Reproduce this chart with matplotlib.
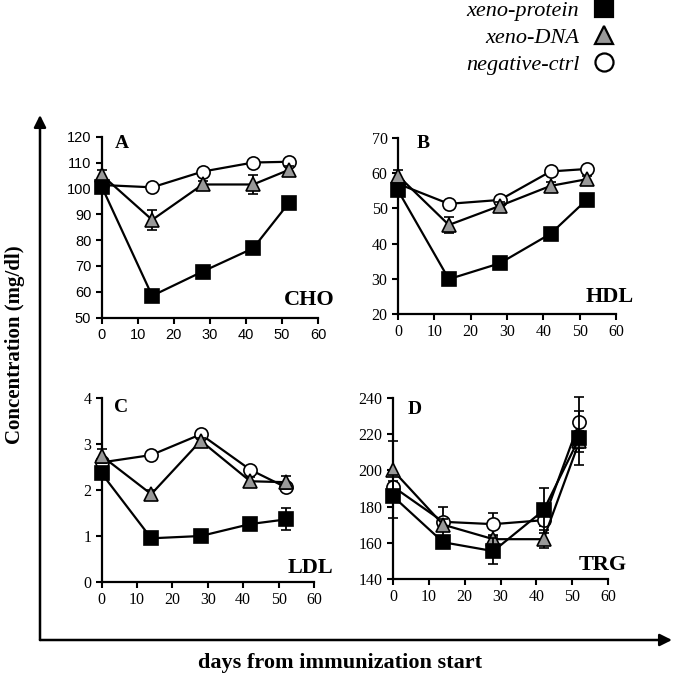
import matplotlib.pyplot as plt
from matplotlib.lines import Line2D
from matplotlib.patches import FancyArrowPatch

plt.rcParams['font.family'] = ['Liberation Serif', 'DejaVu Serif']

days = [0, 14, 28, 42, 52]
series_names = ['xeno-protein', 'xeno-DNA', 'negative-ctrl']

# CHO (panel A)
cho_protein = [100.7, 58.4, 67.8, 76.8, 94.5]
cho_protein_err = [1.5, 1.5, 1.5, 1.5, 1.5]
cho_dna = [105.2, 87.8, 101.5, 101.5, 107.2]
cho_dna_err = [2.0, 4.0, 1.5, 3.5, 1.5]
cho_neg = [101.3, 100.4, 106.5, 110.0, 110.3]
cho_neg_err = [0, 0, 0, 0, 0]

# HDL (panel B)
hdl_protein = [55.1, 29.9, 34.4, 42.8, 52.5]
hdl_protein_err = [1.0, 1.0, 1.0, 1.0, 1.0]
hdl_dna = [59.3, 45.3, 50.7, 56.4, 58.3]
hdl_dna_err = [1.5, 2.2, 1.0, 1.0, 1.0]
hdl_neg = [57.0, 51.3, 52.4, 60.5, 61.2]
hdl_neg_err = [0, 0, 0, 0, 0]

# LDL (panel C)
ldl_protein = [2.36, 0.95, 1.0, 1.26, 1.36]
ldl_protein_err = [0.05, 0.05, 0.05, 0.05, 0.24]
ldl_dna = [2.74, 1.91, 3.07, 2.19, 2.17]
ldl_dna_err = [0.15, 0.1, 0.05, 0.1, 0.14]
ldl_neg = [2.6, 2.76, 3.21, 2.44, 2.06]
ldl_neg_err = [0, 0, 0, 0, 0]

# TRG (panel D)
trg_protein = [185.7, 160.3, 155.4, 177.9, 217.9]
trg_protein_err = [12.0, 2.0, 7.0, 12.5, 15.0]
trg_dna = [200.0, 170.0, 162.0, 162.0, 216.0]
trg_dna_err = [16.0, 3.0, 2.0, 5.0, 6.0]
trg_neg = [191.0, 171.6, 170.3, 172.5, 226.6]
trg_neg_err = [3.0, 8.0, 6.0, 3.0, 14.0]

W, H = 674, 680
fig = plt.figure(figsize=(W / 100, H / 100), dpi=100)

styles = [
    dict(marker='s', ms=10.5, mfc='black', zorder=5),
    dict(marker='^', ms=10.5, mfc='#999999', zorder=4),
    dict(marker='o', ms=9.5, mfc='white', zorder=3),
]


def px_axes(left, right, top, bottom):
    return fig.add_axes([left / W, 1 - bottom / H, (right - left) / W, (bottom - top) / H])


def draw_panel(ax, data, ylim, yticks, letter, letter_xy, name, name_xy, sans=False):
    # circles first, squares last (on top)
    for (vals, errs), st in reversed(list(zip(data, styles))):
        cont = ax.errorbar(days, vals, yerr=errs, color='black', lw=1.6,
                           marker=st['marker'], ms=st['ms'], mfc=st['mfc'],
                           mec='black', mew=1.2, capsize=3.5, elinewidth=1.3,
                           capthick=1.3, zorder=st['zorder'])
        for art in cont.lines[0:1] + tuple(cont.lines[1]) + tuple(cont.lines[2]):
            art.set_clip_on(False)
    ax.set_xlim(0, 60)
    ax.set_ylim(*ylim)
    ax.set_xticks(range(0, 61, 10))
    ax.set_yticks(yticks)
    for s in ['top', 'right']:
        ax.spines[s].set_visible(False)
    for s in ['left', 'bottom']:
        ax.spines[s].set_linewidth(1.6)
    ax.tick_params(direction='out', length=4, width=1.5)
    if sans:
        for lab in ax.get_xticklabels() + ax.get_yticklabels():
            lab.set_fontfamily('Liberation Sans')
            lab.set_fontsize(10.5)
    else:
        for lab in ax.get_xticklabels() + ax.get_yticklabels():
            lab.set_fontsize(11.5)
    ax.text(letter_xy[0], letter_xy[1], letter, transform=ax.transAxes,
            fontsize=14, fontweight='bold', ha='left', va='center')
    ax.text(name_xy[0], name_xy[1], name, transform=ax.transAxes,
            fontsize=16, fontweight='bold', ha='right', va='center')


ax_a = px_axes(101.7, 318, 136.7, 317.5)
draw_panel(ax_a, [(cho_protein, cho_protein_err), (cho_dna, cho_dna_err), (cho_neg, cho_neg_err)],
           (50, 120), range(50, 121, 10), 'A', (0.06, 0.965), 'CHO', (1.075, 0.095), sans=True)

ax_b = px_axes(398, 616, 138, 314)
draw_panel(ax_b, [(hdl_protein, hdl_protein_err), (hdl_dna, hdl_dna_err), (hdl_neg, hdl_neg_err)],
           (20, 70), range(20, 71, 10), 'B', (0.085, 0.97), 'HDL', (1.08, 0.098))

ax_c = px_axes(101.7, 314, 398, 582)
draw_panel(ax_c, [(ldl_protein, ldl_protein_err), (ldl_dna, ldl_dna_err), (ldl_neg, ldl_neg_err)],
           (0, 4), range(0, 5), 'C', (0.06, 0.946), 'LDL', (1.09, 0.076))

ax_d = px_axes(393, 608, 398, 579)
draw_panel(ax_d, [(trg_protein, trg_protein_err), (trg_dna, trg_dna_err), (trg_neg, trg_neg_err)],
           (140, 240), range(140, 241, 20), 'D', (0.07, 0.934), 'TRG', (1.088, 0.077))

# big axis arrows framing the panels
corner = (40 / W, 1 - 640 / H)
fig.add_artist(FancyArrowPatch(corner, (40 / W, 1 - 115 / H), transform=fig.transFigure,
                               arrowstyle='-|>', mutation_scale=18, lw=1.8, color='black',
                               shrinkA=0, shrinkB=0))
fig.add_artist(FancyArrowPatch(corner, (672 / W, 1 - 640 / H), transform=fig.transFigure,
                               arrowstyle='-|>', mutation_scale=18, lw=1.8, color='black',
                               shrinkA=0, shrinkB=0))

fig.text(340 / W, 1 - 663 / H, 'days from immunization start', ha='center', va='center',
         fontsize=16, fontweight='bold')
fig.text(15 / W, 1 - 345 / H, 'Concentration (mg/dl)', ha='center', va='center',
         rotation=90, fontsize=15, fontweight='bold')

# legend with markers to the right of the labels
handles = [Line2D([], [], ls='none', marker=st['marker'], ms=13, mfc=st['mfc'],
                  mec='black', mew=1.6) for st in styles]
fig.legend(handles, series_names, loc='upper left', bbox_to_anchor=(466 / W, 1.0),
           frameon=False, markerfirst=False, handlelength=1.0, handletextpad=0.6,
           labelspacing=0.3, borderpad=0, borderaxespad=0,
           prop={'family': 'Liberation Serif', 'style': 'italic', 'size': 16})

fig.savefig('out.png', dpi=100)
